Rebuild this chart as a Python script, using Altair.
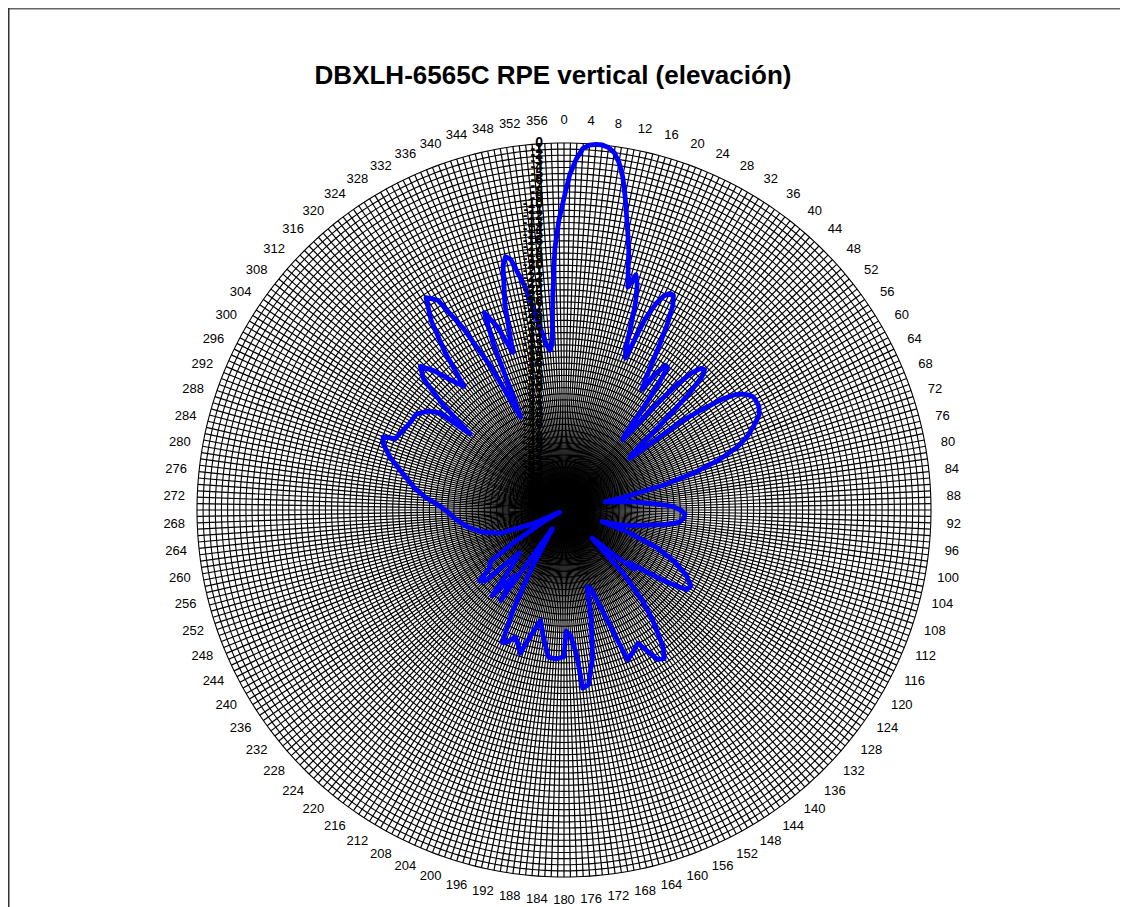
import altair as alt
import pandas as pd

TITLE = "DBXLH-6565C RPE vertical (elevación)"

# Pattern: angle (deg, clockwise from top) and relative level (dB)
angle_deg = [0, 1, 2, 3, 4, 5, 6, 7, 8, 9, 10, 11, 12, 13, 14, 15, 16, 17, 18, 19,
             20, 21, 22, 23, 24, 25, 26, 27, 28, 29, 30, 31, 32, 33, 34, 35, 36, 37, 38, 39,
             40, 41, 42, 43, 44, 45, 46, 47, 48, 49, 50, 51, 52, 53, 54, 55, 56, 57, 58, 59,
             60, 62, 64, 66, 68, 70, 72, 74, 76, 78, 79, 80, 83, 86, 88, 90, 92, 94, 96, 98,
             100, 103, 105, 107, 109, 112, 115, 118, 121, 123, 125, 127, 129, 130, 132, 135,
             137, 139, 141, 144, 146, 148, 151, 154, 157, 159, 161, 163, 166, 169, 172, 174,
             175, 177, 179, 180, 183, 186, 189, 192, 194, 197, 199, 201, 203, 205, 207, 209,
             212, 215, 217, 220, 223, 226, 228, 230, 232, 235, 237, 240, 243, 246, 250, 255,
             260, 265, 269, 272, 275, 278, 281, 284, 287, 290, 292, 293, 295, 298, 300, 303,
             306, 308, 309, 311, 313, 315, 317, 319, 321, 323, 325, 327, 329, 331, 333, 335,
             337, 338, 340, 342, 344, 346, 347, 348, 350, 352, 354, 355, 356, 357, 358, 359]
gain_db = [-9.0, -5.1, -2.6, -0.8, -0.2, 0.0, 0.0, -0.3, -1.0, -2.5, -4.7, -7.7, -10.8, -13.6, -16.2, -19.5, -22.1, -19.8, -21.3, -24.0,
           -28.1, -31.9, -33.2, -26.0, -23.1, -21.4, -20.6, -20.6, -22.1, -25.0, -28.6, -32.2, -35.0, -36.5, -33.0, -31.1, -31.2, -34.7, -39.6, -44.3,
           -45.0, -37.9, -32.5, -29.3, -27.8, -27.5, -28.6, -31.9, -36.3, -40.7, -44.3, -45.9, -46.3, -35.5, -31.9, -28.4, -26.3, -25.2, -24.5, -24.0,
           -23.9, -23.9, -24.5, -26.0, -27.6, -29.8, -33.2, -37.6, -43.3, -49.9, -53.1, -52.2, -48.9, -45.3, -42.3, -40.9, -40.2, -40.4, -41.0, -43.0,
           -45.8, -48.6, -50.8, -53.5, -48.9, -43.7, -40.1, -37.4, -35.8, -36.1, -39.4, -43.3, -46.3, -45.0, -48.9, -53.5,
           -45.6, -40.7, -37.1, -32.5, -30.7, -31.2, -35.1, -34.2, -33.4, -42.0, -46.3, -46.9, -41.7, -35.5, -31.2, -30.7,
           -36.1, -39.4, -40.2, -36.0, -35.6, -35.8, -38.7, -41.5, -39.7, -35.5, -36.9, -37.8, -36.6, -36.1, -41.7, -48.6,
           -56.4, -42.0, -46.6, -41.7, -47.6, -49.9, -42.7, -42.0, -44.5, -45.3, -50.2, -55.9, -59.2, -54.4, -48.9, -46.1,
           -44.0, -42.3, -41.0, -39.6, -37.4, -35.5, -34.0, -32.2, -30.2, -28.6, -28.1, -30.1, -30.4, -30.9, -31.1, -31.2,
           -32.5, -34.2, -40.2, -33.8, -28.6, -26.8, -28.9, -31.9, -34.0, -27.6, -22.1, -18.6, -20.0, -26.0, -33.8, -43.2,
           -30.6, -25.2, -28.1, -32.9, -24.9, -18.8, -17.5, -18.1, -22.7, -28.6, -32.9, -33.8, -32.7, -24.9, -17.2, -12.6]

ring_db = list(range(-59, 1))            # grid circles every 1 dB
value_ticks = list(range(0, -61, -1))    # radial axis labels
angle_ticks = list(range(0, 360, 4))     # category labels every 4 degrees
DB_MIN = -60

W, H = 1112, 905
CX, CY = 556, 502       # centre of the polar grid inside the plot area (px)
R_PX = 367
K = R_PX / 60.0         # px per dB
LABEL_R = 60 + 23 / K   # label radius in dB units

xs = alt.Scale(domain=[-CX / K, (W - CX) / K], nice=False, zero=False)
ys = alt.Scale(domain=[-(H - CY) / K, CY / K], nice=False, zero=False)


def X(f):
    return alt.X(f, type="quantitative", scale=xs, axis=None)


def Y(f):
    return alt.Y(f, type="quantitative", scale=ys, axis=None)


FONT = "Liberation Sans"

# spokes every degree
spokes = alt.Chart(alt.sequence(0, 360, 1, as_="a")).transform_calculate(
    x0="0", y0="0",
    x1="60 * sin(datum.a * PI / 180)",
    y1="60 * cos(datum.a * PI / 180)",
).mark_rule(color="black", strokeWidth=1.2).encode(
    x=X("x0"), y=Y("y0"), x2="x1:Q", y2="y1:Q"
)

# rings
rings = alt.Chart(pd.DataFrame({"ring": ring_db})).transform_calculate(
    a="sequence(0, 361, 1)"
).transform_flatten(["a"]).transform_calculate(
    r=f"datum.ring - ({DB_MIN})"
).transform_calculate(
    px="datum.r * sin(datum.a * PI / 180)",
    py="datum.r * cos(datum.a * PI / 180)",
).mark_line(color="black", strokeWidth=1.1).encode(
    x=X("px"), y=Y("py"), detail="ring:N", order=alt.Order("a:Q")
)

# pattern (closed like a radar series)
n = len(angle_deg)
pat = pd.DataFrame({
    "idx": list(range(n + 1)),
    "ang": angle_deg + [angle_deg[0]],
    "db": gain_db + [gain_db[0]],
})
pattern = alt.Chart(pat).transform_calculate(
    r=f"max(0, datum.db - ({DB_MIN}))"
).transform_calculate(
    px="datum.r * sin(datum.ang * PI / 180)",
    py="datum.r * cos(datum.ang * PI / 180)",
).mark_line(color="#0000FF", strokeWidth=4.8, strokeCap="round", strokeJoin="round").encode(
    x=X("px"), y=Y("py"), order=alt.Order("idx:Q")
)

# radial value labels along the 0 spoke
vlabels = alt.Chart(pd.DataFrame({"v": value_ticks})).transform_calculate(
    px="0", py=f"datum.v - ({DB_MIN})", t="toString(datum.v)"
).mark_text(align="right", baseline="middle", dx=-21, fontSize=14, fontWeight="bold",
            font=FONT, color="black").encode(
    x=X("px"), y=Y("py"), text="t:N"
)

# angle labels
alabels = alt.Chart(pd.DataFrame({"a": angle_ticks})).transform_calculate(
    px=f"{LABEL_R} * sin(datum.a * PI / 180)",
    py=f"{LABEL_R} * cos(datum.a * PI / 180)",
    t="toString(datum.a)",
).mark_text(align="center", baseline="middle", fontSize=13, font=FONT, color="black").encode(
    x=X("px"), y=Y("py"), text="t:N"
)

one = pd.DataFrame({"t": [TITLE]})
title = alt.Chart(one).mark_text(
    align="center", baseline="middle", fontSize=26, fontWeight="bold", font=FONT, color="black"
).encode(x=alt.value(545), y=alt.value(68), text="t:N")

frame_top = alt.Chart(one).mark_rule(color="#666666", strokeWidth=1.5).encode(
    x=alt.value(0), x2=alt.value(W), y=alt.value(0.75)
)
frame_left = alt.Chart(one).mark_rule(color="#333333", strokeWidth=1.5).encode(
    x=alt.value(0.75), y=alt.value(0), y2=alt.value(H)
)

chart = alt.layer(
    spokes, rings, pattern, vlabels, alabels, title, frame_top, frame_left
).properties(
    width=W, height=H, padding=0,
    autosize=alt.AutoSizeParams(type="none"),
    background="white",
).configure_view(stroke=None)

chart.save("out.html", embed_options={"renderer": "svg", "actions": False})
